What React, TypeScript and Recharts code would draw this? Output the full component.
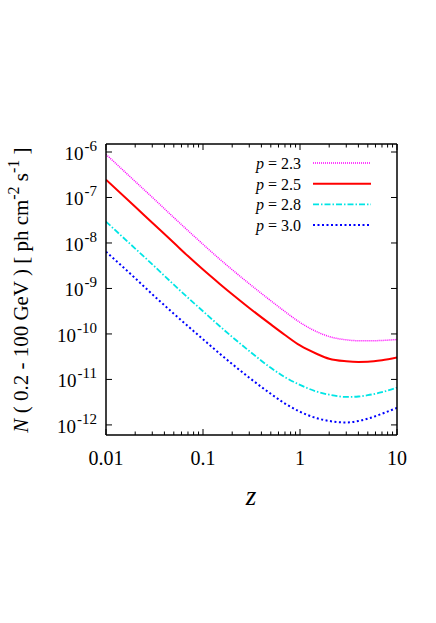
import React from 'react';
import { LineChart, Line, XAxis, YAxis } from 'recharts';

const zValues = [0.01, 0.02, 0.03, 0.05, 0.07, 0.1, 0.15, 0.2, 0.3, 0.5, 0.7, 1, 1.5, 2, 3, 4, 5, 7, 10];
const p23 = [8.9e-7, 2.25e-7, 1.01e-7, 3.63e-8, 1.87e-8, 9.35e-9, 4.34e-9, 2.58e-9, 1.27e-9, 5.37e-10, 3.1e-10, 1.79e-10, 1.11e-10, 8.77e-11, 7.41e-11, 7.08e-11, 7.05e-11, 7.19e-11, 7.54e-11];
const p25 = [2.47e-7, 6.25e-8, 2.78e-8, 1.01e-8, 5.15e-9, 2.6e-9, 1.24e-9, 7.45e-10, 3.73e-10, 1.62e-10, 9.5e-11, 5.58e-11, 3.63e-11, 2.85e-11, 2.51e-11, 2.43e-11, 2.45e-11, 2.64e-11, 3.03e-11];
const p28 = [2.95e-8, 7.53e-9, 3.4e-9, 1.21e-9, 6.25e-10, 3.16e-10, 1.46e-10, 8.59e-11, 4.21e-11, 1.8e-11, 1.12e-11, 7.57e-12, 5.37e-12, 4.61e-12, 4.12e-12, 4.21e-12, 4.5e-12, 5.24e-12, 6.64e-12];
const p30 = [6.41e-9, 1.68e-9, 7.46e-10, 2.78e-10, 1.48e-10, 7.64e-11, 3.63e-11, 2.18e-11, 1.09e-11, 4.83e-12, 2.95e-12, 1.95e-12, 1.4e-12, 1.22e-12, 1.13e-12, 1.22e-12, 1.37e-12, 1.76e-12, 2.37e-12];

const seriesLabels = ['2.3', '2.5', '2.8', '3.0'];
const xMajorTicks = [0.01, 0.1, 1, 10];
const xTicks = [0.01, 0.02, 0.03, 0.04, 0.05, 0.06, 0.07, 0.08, 0.09, 0.1, 0.2, 0.3, 0.4, 0.5, 0.6, 0.7, 0.8, 0.9, 1, 2, 3, 4, 5, 6, 7, 8, 9, 10];
const yTicks = [1e-12, 1e-11, 1e-10, 1e-9, 1e-8, 1e-7, 1e-6];
const yExponents = ['-12', '-11', '-10', '-9', '-8', '-7', '-6'];
const xTickLabels = ['0.01', '0.1', '1', '10'];

const data = zValues.map((z, i) => ({ z, p23: p23[i], p25: p25[i], p28: p28[i], p30: p30[i] }));

const FONT = 'Liberation Serif, Times New Roman, serif';

const styles = [
  { key: 'p23', color: '#ff00ff', width: 1.5, dash: '1 1' },
  { key: 'p25', color: '#ff0000', width: 2, dash: undefined },
  { key: 'p28', color: '#00e5e5', width: 1.8, dash: '6 2 1.5 2' },
  { key: 'p30', color: '#0000ff', width: 2, dash: '2 2.5' },
];

const findIdx = (arr: number[], v: number) => arr.findIndex((m) => Math.abs(m - v) / m < 1e-6);

const XBottomTick = (props: any) => {
  const { x, y, payload } = props;
  const idx = findIdx(xMajorTicks, payload.value);
  const major = idx >= 0;
  return (
    <g>
      <line x1={x} x2={x} y1={y} y2={y - (major ? 6 : 3.5)} stroke="#000" strokeWidth={1} />
      {major && (
        <text x={x} y={y + 30} textAnchor="middle" fontFamily={FONT} fontSize={20} fill="#000">
          {xTickLabels[idx]}
        </text>
      )}
    </g>
  );
};

const XTopTick = (props: any) => {
  const { x, y, payload } = props;
  const major = findIdx(xMajorTicks, payload.value) >= 0;
  return <line x1={x} x2={x} y1={y} y2={y + (major ? 6 : 3.5)} stroke="#000" strokeWidth={1} />;
};

const YLeftTick = (props: any) => {
  const { x, y, payload } = props;
  const idx = findIdx(yTicks, payload.value);
  return (
    <g>
      <line x1={x} x2={x + 6} y1={y} y2={y} stroke="#000" strokeWidth={1} />
      <text x={x - 9} y={y + 8} textAnchor="end" fontFamily={FONT} fontSize={19} fill="#000">
        10
        <tspan dx={1} dy={-9} fontSize={15}>{yExponents[idx]}</tspan>
      </text>
    </g>
  );
};

const YRightTick = (props: any) => {
  const { x, y } = props;
  return <line x1={x} x2={x - 6} y1={y} y2={y} stroke="#000" strokeWidth={1} />;
};

const LegendBox = () => (
  <svg width={160} height={90} style={{ position: 'absolute', left: 238, top: 152, overflow: 'visible' }}>
    {styles.map((s, i) => {
      const cy = 11 + i * 20.7;
      return (
        <g key={s.key}>
          <text x={63} y={cy + 6} textAnchor="end" fontFamily={FONT} fontSize={16} fill="#000">
            <tspan fontStyle="italic">p</tspan> = {seriesLabels[i]}
          </text>
          <line x1={75} x2={133} y1={cy} y2={cy} stroke={s.color} strokeWidth={s.width} strokeDasharray={s.dash} />
        </g>
      );
    })}
  </svg>
);

const YLabel = () => (
  <text transform="translate(28, 290) rotate(-90)" textAnchor="middle" fontFamily={FONT} fontSize={21} fill="#000">
    <tspan fontStyle="italic">N</tspan> ( 0.2 - 100 GeV ) [ ph cm
    <tspan dy={-9} fontSize={16}>-2</tspan>
    <tspan dy={9}> s</tspan>
    <tspan dy={-9} fontSize={16}>-1</tspan>
    <tspan dy={9}> ]</tspan>
  </text>
);

const XLabel = () => (
  <text x={251} y={505} textAnchor="middle" fontFamily={FONT} fontSize={27} fontStyle="italic" fill="#000">
    z
  </text>
);

export default function App() {
  return (
    <div style={{ position: 'absolute', left: 0, top: 0, width: 436, height: 623, background: '#fff' }}>
      <LineChart width={436} height={623} data={data} margin={{ top: 143, right: 38, bottom: 187, left: 105 }}>
        <XAxis
          xAxisId="bottom"
          dataKey="z"
          type="number"
          scale="log"
          domain={[0.01, 10]}
          allowDataOverflow
          ticks={xTicks}
          interval={0}
          height={1}
          tickSize={0}
          tickMargin={0}
          tick={<XBottomTick />}
          tickLine={false}
          axisLine={{ stroke: '#000', strokeWidth: 1.5 }}
          label={<XLabel />}
        />
        <XAxis
          xAxisId="top"
          orientation="top"
          dataKey="z"
          type="number"
          scale="log"
          domain={[0.01, 10]}
          allowDataOverflow
          ticks={xTicks}
          interval={0}
          height={1}
          tickSize={0}
          tickMargin={0}
          tick={<XTopTick />}
          tickLine={false}
          axisLine={{ stroke: '#000', strokeWidth: 1.5 }}
        />
        <YAxis
          yAxisId="left"
          type="number"
          scale="log"
          domain={[6e-13, 1.5e-6]}
          allowDataOverflow
          ticks={yTicks}
          interval={0}
          width={1}
          tickSize={0}
          tickMargin={0}
          tick={<YLeftTick />}
          tickLine={false}
          axisLine={{ stroke: '#000', strokeWidth: 1.5 }}
          label={<YLabel />}
        />
        <YAxis
          yAxisId="right"
          orientation="right"
          type="number"
          scale="log"
          domain={[6e-13, 1.5e-6]}
          allowDataOverflow
          ticks={yTicks}
          interval={0}
          width={1}
          tickSize={0}
          tickMargin={0}
          tick={<YRightTick />}
          tickLine={false}
          axisLine={{ stroke: '#000', strokeWidth: 1.5 }}
        />
        {styles.map((s) => (
          <Line
            key={s.key}
            xAxisId="bottom"
            yAxisId="left"
            dataKey={s.key}
            type="monotone"
            stroke={s.color}
            strokeWidth={s.width}
            strokeDasharray={s.dash}
            dot={false}
            activeDot={false}
            isAnimationActive={false}
          />
        ))}
      </LineChart>
      <LegendBox />
    </div>
  );
}
